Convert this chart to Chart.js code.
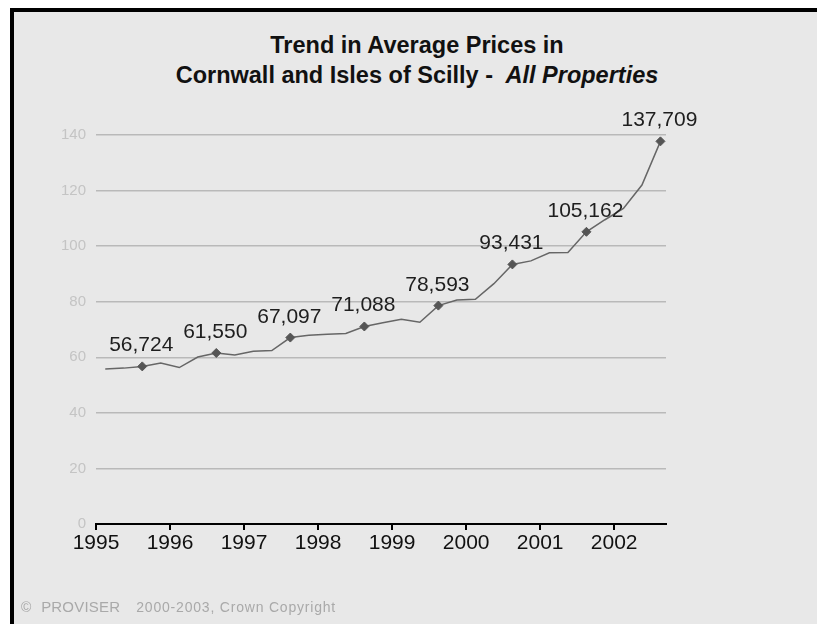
<!DOCTYPE html>
<html>
<head>
<meta charset="utf-8">
<title>Trend in Average Prices - Cornwall and Isles of Scilly</title>
<script src="https://cdn.jsdelivr.net/npm/chart.js@4.4.1/dist/chart.umd.min.js"></script>
<style>
    html, body { margin: 0; padding: 0; background: #fff; }
    body { width: 817px; height: 624px; position: relative; overflow: hidden; font-family: "Liberation Sans", Arial, sans-serif; }
    #panel { position: absolute; left: 10px; top: 8px; right: 0; bottom: 0; background: #e8e8e8; border-top: 4px solid #000; border-left: 4px solid #000; }
    #title { position: absolute; left: 10px; width: 814px; top: 30px; text-align: center; font-weight: bold; font-size: 23.5px; line-height: 30px; color: #111; }
    #title i { margin-left: 6px; }
    #chartWrap { position: absolute; left: 0; top: 0; width: 817px; height: 624px; }
    #footer { position: absolute; left: 21px; top: 598px; color: #a9a9a9; font-size: 14px; letter-spacing: 0.8px; white-space: pre; }
    #footer .brand { font-size: 15px; letter-spacing: 0.2px; margin-left: 9px; margin-right: 16px; }
</style>
</head>
<body>
<div id="panel"></div>
<div id="title">Trend in Average Prices in<br>Cornwall and Isles of Scilly - <i>All Properties</i></div>
<div id="chartWrap"><canvas id="priceChart"></canvas></div>
<div id="footer">©<span class="brand">PROVISER</span>2000-2003, Crown Copyright</div>
<script>
// Average price (£000s) per quarter, starting 1995 Q1
const startYear = 1995;
const years = [1995, 1996, 1997, 1998, 1999, 2000, 2001, 2002];
const prices = [
    55.8, 56.1, 56.724, 57.9,
    56.3, 60.1, 61.55, 60.8,
    62.2, 62.4, 67.097, 67.9,
    68.3, 68.6, 71.088, 72.4,
    73.7, 72.6, 78.593, 80.6,
    80.9, 86.5, 93.431, 94.7,
    97.6, 97.7, 105.162, 109.5,
    113.6, 122.0, 137.709
];
const yTicks = [0, 20, 40, 60, 80, 100, 120, 140];
const labelledQuarter = 2; // Q3 of each year gets a marker + value

document.addEventListener('DOMContentLoaded', () => {
    const points = prices.map((v, i) => ({ x: startYear + i / 4 + 0.125, y: v }));

    // writes "56,724" style values above the Q3 markers
    const valueLabels = {
        id: 'valueLabels',
        afterDatasetsDraw(chart) {
            const ctx = chart.ctx;
            const meta = chart.getDatasetMeta(0);
            ctx.save();
            ctx.font = '21px "Liberation Sans", Arial, sans-serif';
            ctx.fillStyle = '#1e1e1e';
            ctx.textAlign = 'center';
            ctx.textBaseline = 'alphabetic';
            meta.data.forEach((pt, i) => {
                if (i % 4 !== labelledQuarter) return;
                const txt = Math.round(prices[i] * 1000).toLocaleString('en-GB');
                ctx.fillText(txt, pt.x - 1, pt.y - 15);
            });
            ctx.restore();
        }
    };

    const ctx = document.getElementById('priceChart').getContext('2d');
    new Chart(ctx, {
        type: 'line',
        data: {
            datasets: [{
                data: points,
                borderColor: '#666',
                borderWidth: 1.5,
                tension: 0,
                pointStyle: 'rectRot',
                pointRadius: c => (c.dataIndex % 4 === labelledQuarter ? 4.5 : 0),
                pointBackgroundColor: '#555',
                pointBorderColor: '#555',
                pointBorderWidth: 1,
                clip: false
            }]
        },
        options: {
            responsive: true,
            maintainAspectRatio: false,
            animation: false,
            layout: { padding: { left: 0, right: 151, top: 135, bottom: 50 } },
            plugins: {
                legend: { display: false },
                tooltip: { enabled: false }
            },
            scales: {
                x: {
                    type: 'linear',
                    min: years[0],
                    max: 2002.7,
                    afterBuildTicks: scale => { scale.ticks = years.map(y => ({ value: y })); },
                    afterFit: scale => { scale.height = 50; },
                    ticks: {
                        color: '#111',
                        font: { family: '"Liberation Sans", Arial, sans-serif', size: 21 },
                        padding: 1,
                        maxRotation: 0,
                        callback: v => String(v)
                    },
                    grid: { drawOnChartArea: false, drawTicks: true, tickLength: 6, color: '#000', lineWidth: 2 },
                    border: { display: true, color: '#000', width: 2 }
                },
                y: {
                    min: 0,
                    max: 140,
                    afterBuildTicks: scale => { scale.ticks = yTicks.map(v => ({ value: v })); },
                    afterFit: scale => { scale.width = 96; },
                    ticks: {
                        color: '#c4c4c4',
                        font: { family: '"Liberation Sans", Arial, sans-serif', size: 15 },
                        padding: 10
                    },
                    grid: { color: '#b9b9b9', lineWidth: 1.5, drawTicks: false },
                    border: { display: false }
                }
            }
        },
        plugins: [valueLabels]
    });
});
</script>
</body>
</html>
